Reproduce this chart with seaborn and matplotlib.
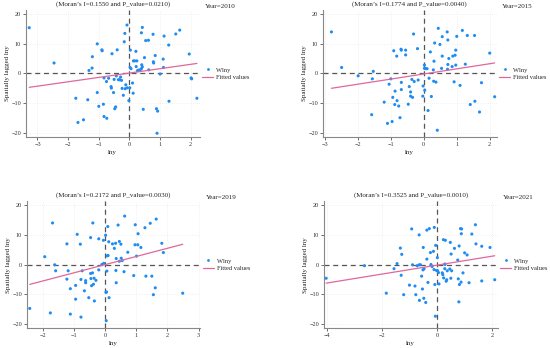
import matplotlib
matplotlib.use("Agg")
import matplotlib.pyplot as plt
import seaborn as sns
import numpy as np
import pandas as pd
from matplotlib.lines import Line2D

# ---- data ----
years = [2010, 2015, 2019, 2021]
morans_i = ["0.1550", "0.1774", "0.2172", "0.3525"]
p_values = ["0.0210", "0.0040", "0.0030", "0.0010"]

lny_2010 = [-3.27, -2.46, -1.75, -1.68, -1.5, -1.36, -1.32, -1.22, -1.21, -1.05, -1.05, -1.0,
            -0.90, -0.89, -0.85, -0.83, -0.83, -0.75, -0.74, -0.68, -0.60, -0.59, -0.57, -0.52,
            -0.50, -0.48, -0.45, -0.43, -0.40, -0.36, -0.32, -0.29, -0.26, -0.24, -0.20, -0.17,
            -0.15, -0.14, -0.12, -0.08, -0.07, -0.02, 0.01, 0.02, 0.03, 0.05, 0.10, 0.12, 0.13,
            0.17, 0.21, 0.22, 0.24, 0.26, 0.29, 0.36, 0.39, 0.39, 0.40, 0.42, 0.42, 0.45, 0.49,
            0.53, 0.62, 0.63, 0.77, 0.78, 0.79, 0.84, 0.88, 0.90, 0.92, 1.0, 1.10, 1.11, 1.13,
            1.28, 1.29, 1.51, 1.64, 1.95, 2.01, 2.03, 2.2]
wlny_2010 = [15.3, 3.5, -8.3, -16.4, -15.5, -8.8, 1.0, 1.8, 5.6, 9.9, -6.4, -11.0,
             7.9, 7.6, -10.3, -1.5, -14.4, -2.7, -15.0, -1.6, -4.4, -4.9, 6.6, -6.4,
             -2.0, -11.8, -11.2, -0.8, 7.9, -2.1, -2.1, -1.2, -2.3, -5.0, -7.3, 10.6,
             13.4, -5.1, -3.8, 16.2, -4.8, -9.1, -4.8, 2.0, 7.8, 1.6, -3.2, -6.6, 4.2,
             4.2, 7.4, 2.3, 4.2, 0.9, 1.1, 1.3, 13.6, 1.6, 2.9, 15.4, 2.2, -12.0, 5.3,
             11.0, 11.1, 1.2, 13.1, 3.9, 3.5, 6.0, -11.8, -20.0, -12.6, -0.2, 4.8, 2.0, 12.5,
             9.5, -9.3, 13.2, 14.5, 6.5, -1.5, -1.8, -8.3]

lny_2015 = [-2.80, -2.49, -1.99, -1.58, -1.56, -1.53, -1.20, -1.10, -1.05, -1.0, -0.96, -0.94,
            -0.91, -0.88, -0.87, -0.82, -0.81, -0.76, -0.72, -0.69, -0.68, -0.68, -0.68, -0.55,
            -0.55, -0.47, -0.44, -0.40, -0.40, -0.36, -0.34, -0.31, -0.29, -0.19, -0.17, -0.03,
            -0.02, 0.02, 0.02, 0.03, 0.06, 0.10, 0.13, 0.16, 0.20, 0.23, 0.29, 0.30, 0.31,
            0.33, 0.37, 0.41, 0.44, 0.49, 0.54, 0.56, 0.56, 0.71, 0.72, 0.73, 0.73, 0.76,
            0.86, 0.88, 0.92, 0.95, 0.97, 0.97, 1.0, 1.10, 1.17, 1.26, 1.32, 1.41, 1.54,
            1.55, 1.69, 1.75, 2.0, 2.15]
wlny_2015 = [13.9, 2.0, -0.8, -13.8, -1.8, 0.7, -9.6, -16.7, -3.6, -1.8, -16.1, -8.0,
             7.6, -10.4, -5.9, 5.8, -9.1, -10.9, -14.8, 8.1, 7.8, -3.0, -5.4, 7.8,
             6.2, -10.3, -4.4, -6.2, -7.6, -2.0, -8.0, 13.2, -2.7, 8.3, -2.2, -7.6,
             -4.2, 2.8, 1.7, -5.6, 1.6, 1.6, -12.4, -1.6, 7.2, -7.7, 1.2, -2.6, 4.1,
             10.2, -2.9, -19.0, 15.1, 9.7, 1.7, 12.3, 5.8, 13.9, 1.4, 11.2, 3.0, 5.0,
             2.3, 5.8, -2.8, 6.1, 7.8, 2.8, 12.4, -4.0, 14.4, 3.1, 12.7, -10.4, 12.7,
             -9.3, -12.9, -3.1, 6.8, -7.8]

lny_2019 = [-2.41, -1.93, -1.75, -1.68, -1.61, -1.58, -1.22, -1.22, -1.18, -1.11, -1.11, -0.94,
            -0.94, -0.89, -0.79, -0.77, -0.77, -0.73, -0.66, -0.62, -0.62, -0.52, -0.46, -0.46,
            -0.45, -0.43, -0.40, -0.39, -0.37, -0.35, -0.34, -0.29, -0.20, -0.20, -0.10, -0.05,
            -0.04, 0.02, 0.03, 0.04, 0.05, 0.06, 0.07, 0.09, 0.10, 0.12, 0.13, 0.24, 0.30,
            0.34, 0.36, 0.35, 0.36, 0.42, 0.46, 0.46, 0.51, 0.52, 0.55, 0.61, 0.63, 0.73,
            0.92, 0.96, 0.97, 1.01, 1.05, 1.06, 1.15, 1.28, 1.31, 1.45, 1.50, 1.55, 1.64,
            1.61, 1.82, 1.87, 2.49]
wlny_2019 = [-14.7, 2.6, -16.2, 13.9, -0.1, -2.1, 6.9, -4.9, -2.1, -16.6, -8.1, -7.0,
             -11.6, 10.1, 6.8, -5.0, -17.6, -2.1, -8.8, -5.4, -6.1, -11.1, -3.0, 9.0,
             -4.7, -7.1, -2.8, 13.9, -6.6, -4.6, -12.2, -5.3, -1.8, 8.6, 0.0, 8.1,
             0.4, 9.8, -9.3, -18.8, -9.2, -2.2, 2.9, 12.7, 3.0, 7.6, -11.1, 6.9, 5.4,
             7.1, 2.0, -2.0, -6.1, 13.2, 7.7, 1.1, 6.8, 2.1, 1.3, -2.4, 16.2, 4.1,
             -3.7, 6.6, 13.3, 2.8, 6.6, 10.3, 5.7, 12.3, -3.9, 13.8, -3.9, -10.1, 15.2,
             -7.8, 7.1, 4.0, -9.6]

lny_2021 = [-4.02, -2.63, -1.84, -1.56, -1.45, -1.33, -1.30, -1.28, -1.21, -1.0, -0.92, -0.89,
            -0.80, -0.77, -0.72, -0.65, -0.65, -0.64, -0.60, -0.56, -0.53, -0.51, -0.50, -0.48,
            -0.47, -0.41, -0.37, -0.37, -0.33, -0.28, -0.24, -0.22, -0.18, -0.13, -0.11, -0.10,
            -0.08, -0.06, -0.05, -0.02, 0.01, 0.02, 0.05, 0.07, 0.19, 0.21, 0.23, 0.24, 0.28,
            0.28, 0.29, 0.30, 0.33, 0.35, 0.37, 0.46, 0.48, 0.50, 0.51, 0.53, 0.63, 0.75,
            0.77, 0.79, 0.80, 0.81, 0.85, 0.88, 0.89, 0.87, 0.94, 1.00, 1.09, 1.16, 1.26,
            1.39, 1.41, 1.62, 1.62, 1.92, 2.09]
wlny_2021 = [-4.6, -0.4, -9.6, -1.4, 0.3, 5.5, -3.6, 3.4, -10.1, -6.9, 11.9, -0.1,
             -7.2, -10.1, -0.4, 9.9, -0.1, -12.0, -0.1, -3.9, -8.2, -1.8, 5.7, -11.3,
             -1.4, -12.7, 1.8, 11.5, -6.0, 12.0, 4.0, 0.0, -0.7, 4.4, -1.7, 12.4,
             -6.7, -17.3, 6.4, -2.0, 2.3, -2.1, -2.7, -6.5, -2.8, -3.4, 8.3, -4.5, 0.1,
             -1.4, 0.1, 8.1, -5.6, -5.1, -2.1, -1.5, 7.4, -4.6, 3.5, -2.1, 5.4, 1.5,
             -4.8, -12.5, 6.2, -6.7, 12.0, 10.3, 11.9, -5.9, -2.8, 3.9, 3.2, -6.1, 10.2,
             13.3, 6.9, 6.1, -5.5, 5.7, -5.1]

x_limits = [(-3.38, 2.29), (-3.06, 2.21), (-2.5, 3.05), (-4.1, 2.2)]
x_ticks = [[-3, -2, -1, 0, 1, 2], [-3, -2, -1, 0, 1, 2], [-2, -1, 0, 1, 2, 3], [-4, -2, 0, 2]]
y_ticks = [-20, -10, 0, 10, 20]

frames = [
    pd.DataFrame({"lny": lny_2010, "Wlny": wlny_2010}),
    pd.DataFrame({"lny": lny_2015, "Wlny": wlny_2015}),
    pd.DataFrame({"lny": lny_2019, "Wlny": wlny_2019}),
    pd.DataFrame({"lny": lny_2021, "Wlny": wlny_2021}),
]

sns.set_theme(style="white")
plt.rcParams["font.family"] = ["Liberation Serif", "DejaVu Serif"]

point_color = "#1e8cf0"
line_color = "#e0679c"

fig = plt.figure(figsize=(5.5, 3.48), dpi=100)
positions = [
    [0.047, 0.606, 0.316, 0.365],
    [0.587, 0.606, 0.316, 0.365],
    [0.049, 0.057, 0.315, 0.365],
    [0.589, 0.057, 0.316, 0.365],
]

for i, df in enumerate(frames):
    ax = fig.add_axes(positions[i])
    ax.grid(True, color="#e4e4e4", linestyle=(0, (1, 2)), linewidth=0.5)
    ax.set_axisbelow(True)
    sns.scatterplot(data=df, x="lny", y="Wlny", ax=ax, color=point_color,
                    s=5, linewidth=0, edgecolor="none", zorder=3)
    sns.regplot(data=df, x="lny", y="Wlny", ax=ax, scatter=False, ci=None,
                color=line_color, line_kws={"linewidth": 0.9, "zorder": 4})
    ax.axhline(0, color="#555555", linestyle=(0, (4, 3)), linewidth=0.9, zorder=2)
    ax.axvline(0, color="#555555", linestyle=(0, (4, 3)), linewidth=0.9, zorder=2)

    ax.set_xlim(*x_limits[i])
    ax.set_ylim(-21.3, 21.2)
    ax.set_xticks(x_ticks[i])
    ax.set_yticks(y_ticks)
    ax.set_xticklabels([f"{t}".replace("-", "\u2212") for t in x_ticks[i]])
    ax.set_yticklabels([f"{t}".replace("-", "\u2212") for t in y_ticks])
    ax.tick_params(axis="both", labelsize=4.5, length=2, width=0.5, pad=1.5,
                   colors="#333333", direction="out", bottom=True, left=True)

    for side in ["top", "right"]:
        ax.spines[side].set_visible(False)
    for side in ["left", "bottom"]:
        ax.spines[side].set_color("#888888")
        ax.spines[side].set_linewidth(0.8)

    ax.set_xlabel("lny", fontsize=5, labelpad=2, color="#222222")
    ax.set_ylabel("Spatially lagged lny", fontsize=5, labelpad=1, color="#222222")

    ax.set_title(f"(Moran\u2019s I={morans_i[i]} and P_value={p_values[i]})",
                 fontsize=5, pad=3, color="#222222")
    ax.text(1.03, 1.012, f"Year={years[i]}", transform=ax.transAxes,
            fontsize=5, ha="left", va="bottom", color="#222222")

    handles = [
        Line2D([], [], marker="o", linestyle="none", markersize=2,
               markerfacecolor=point_color, markeredgewidth=0, label="Wlny"),
        Line2D([], [], color=line_color, linewidth=0.9, label="Fitted values"),
    ]
    ax.legend(handles=handles, loc="center left", bbox_to_anchor=(1.0, 0.50),
              frameon=False, fontsize=4.6, handlelength=1.7, handletextpad=0.5,
              labelspacing=0.3, borderaxespad=0.2, borderpad=0.2)

fig.savefig("out.png", dpi=100)
